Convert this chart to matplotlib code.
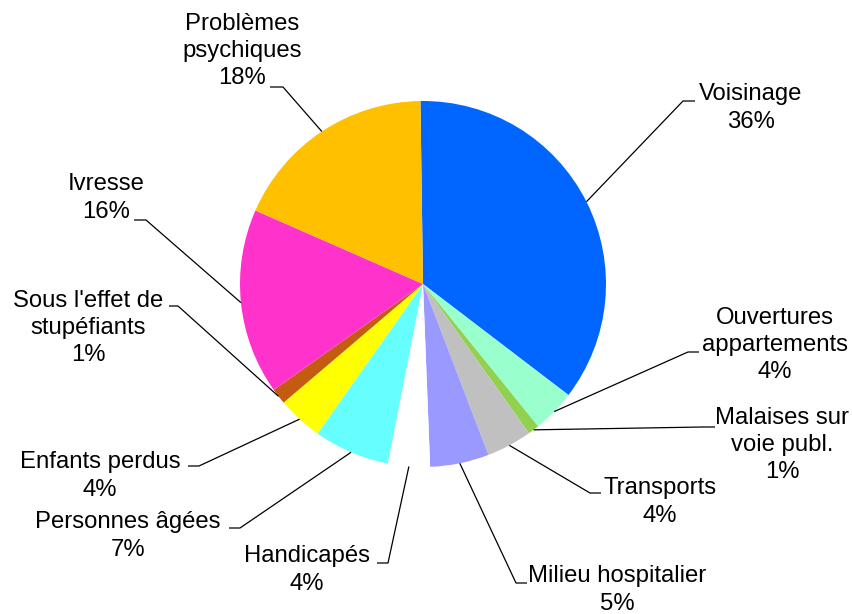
import numpy as np
import matplotlib.pyplot as plt

plt.rcParams['font.family'] = ['Liberation Sans', 'DejaVu Sans']

labels = ["Voisinage", "Ouvertures\nappartements", "Malaises sur\nvoie publ.",
          "Transports", "Milieu hospitalier", "Handicapés", "Personnes âgées",
          "Enfants perdus", "Sous l'effet de\nstupéfiants", "Ivresse",
          "Problèmes\npsychiques"]
values = [35.6, 3.8, 1.0, 4.0, 5.2, 3.7, 6.7, 4.0, 1.4, 16.4, 18.2]
colors = ["#0066FF", "#99FFCC", "#92D050", "#C0C0C0", "#9999FF", "#FFFFFF",
          "#66FFFF", "#FFFF00", "#C55A11", "#FF33CC", "#FFC000"]

# layout in pixels of the 853x614 image: pie centre, radius,
# text centre, elbow of the leader, end of its short horizontal part
CX, CY, R = 423, 284, 183
text_pos = [(751, 108), (775, 345), (782, 445), (660, 502), (617, 590),
            (307, 570), (128, 536), (100, 476), (88, 328), (106, 198),
            (242, 51)]
elbows = [(683, 101), (688, 352), (703, 427), (590, 493), (516, 583),
          (388, 563), (240, 528), (199, 466), (178, 306), (146, 220),
          (283, 87)]
ends = [(695, 101), (699, 352), (715, 427), (601, 493), (527, 583),
        (377, 563), (229, 528), (188, 466), (169, 306), (134, 220),
        (270, 87)]


def to_data(p):
    return (p[0] - CX) / R, (CY - p[1]) / R


fig = plt.figure(figsize=(8.53, 6.14), dpi=100)
ax = fig.add_axes([0, 0, 1, 1])
wedges, _ = ax.pie(values, colors=colors, startangle=90.8, counterclock=False,
                   radius=1.0, wedgeprops=dict(linewidth=0))

total = sum(values)
for w, lab, v, tp, el, en in zip(wedges, labels, values, text_pos, elbows, ends):
    mid = np.deg2rad((w.theta1 + w.theta2) / 2)
    start = (np.cos(mid), np.sin(mid))
    e1 = to_data(el)
    e2 = to_data(en)
    ax.plot([start[0], e1[0], e2[0]], [start[1], e1[1], e2[1]],
            color='black', lw=0.9, solid_capstyle='butt')
    tx, ty = to_data(tp)
    ax.text(tx, ty, f"{lab}\n{round(100 * v / total)}%", ha='center', va='center',
            fontsize=17.2, linespacing=1.3, color='black')

ax.set_xlim(-CX / R, (853 - CX) / R)
ax.set_ylim((CY - 614) / R, CY / R)
ax.set_aspect('equal', adjustable='box')
ax.axis('off')

fig.savefig("out.png", dpi=100, facecolor='white')
